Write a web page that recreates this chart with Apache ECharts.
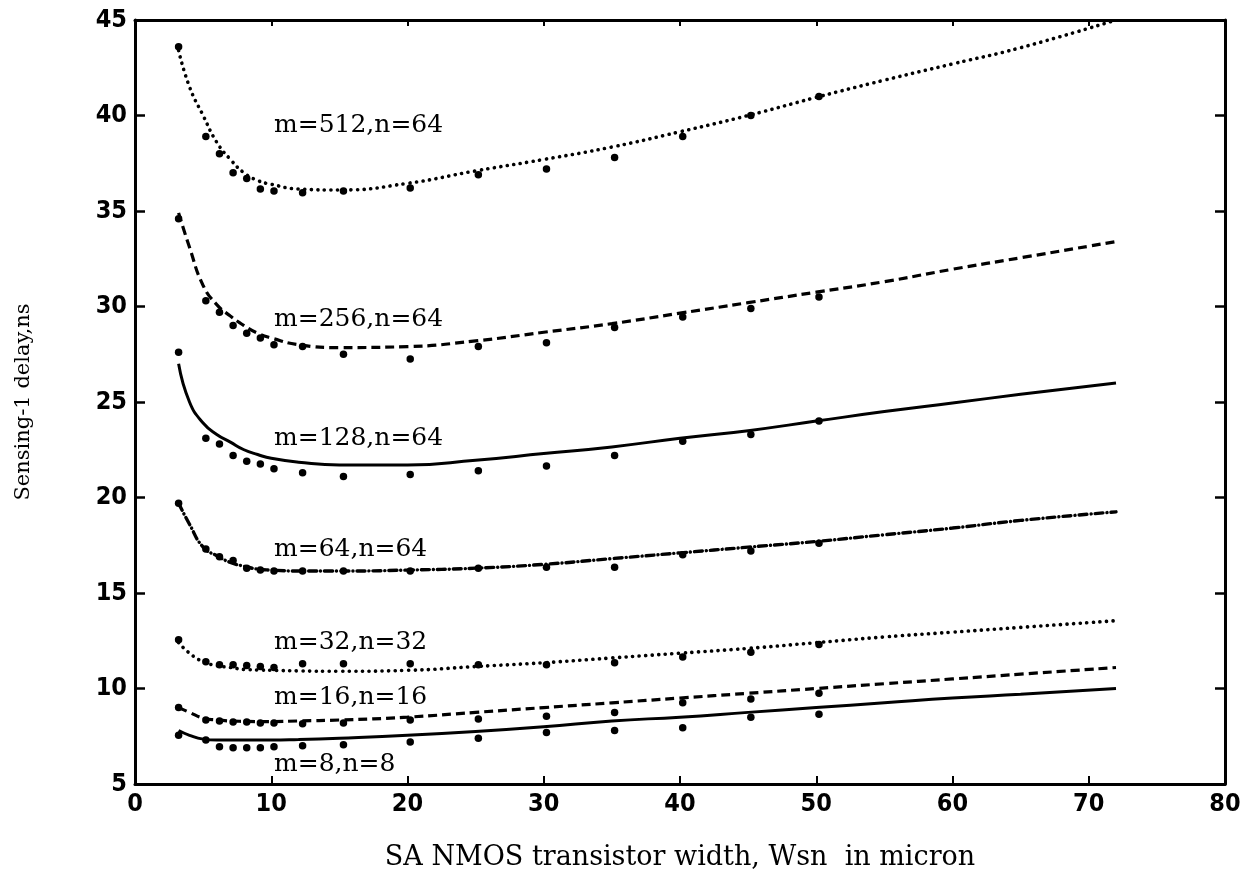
<!DOCTYPE html>
<html>
<head>
<meta charset="utf-8">
<script src="https://cdn.jsdelivr.net/npm/echarts@6/dist/echarts.min.js"></script>
<style>
  html, body { margin: 0; padding: 0; background: #fff; }
  #chart { width: 1256px; height: 893px; }
</style>
</head>
<body>
<div id="chart"></div>
<script>
// Sensing-1 delay (ns) against SA NMOS transistor width Wsn (micron)

// Widths where simulated delays were taken (dots)
const wsnPoints = [3.2, 5.2, 6.2, 7.2, 8.2, 9.2, 10.2, 12.3, 15.3, 20.2, 25.2, 30.2, 35.2, 40.2, 45.2, 50.2];

// Simulated delays (dots)
const dots512 = [43.6, 38.9, 38.0, 37.0, 36.7, 36.15, 36.05, 35.95, 36.05, 36.2, 36.9, 37.2, 37.8, 38.9, 40.0, 41.0];
const dots256 = [34.6, 30.3, 29.7, 29.0, 28.6, 28.35, 28.0, 27.9, 27.5, 27.25, 27.9, 28.1, 28.9, 29.45, 29.9, 30.5];
const dots128 = [27.6, 23.1, 22.8, 22.2, 21.9, 21.75, 21.5, 21.3, 21.1, 21.2, 21.4, 21.65, 22.2, 22.95, 23.3, 24.0];
const dots64  = [19.7, 17.3, 16.9, 16.7, 16.3, 16.2, 16.15, 16.15, 16.15, 16.15, 16.3, 16.35, 16.35, 17.0, 17.2, 17.6];
const dots32  = [12.55, 11.4, 11.25, 11.25, 11.2, 11.15, 11.1, 11.3, 11.3, 11.3, 11.25, 11.25, 11.35, 11.65, 11.9, 12.3];
const dots16  = [9.0, 8.35, 8.3, 8.25, 8.25, 8.2, 8.2, 8.15, 8.2, 8.35, 8.4, 8.55, 8.75, 9.25, 9.45, 9.75];
const dots8   = [7.55, 7.3, 6.95, 6.9, 6.9, 6.9, 6.95, 7.0, 7.05, 7.2, 7.4, 7.7, 7.8, 7.95, 8.5, 8.65];

// Widths for the model curves
const wsnCurve = [3.2, 4, 5, 6, 7, 8, 9, 10, 12, 15, 20, 25, 30, 35, 40, 45, 50, 55, 60, 65, 72];

// Model curves
const curve512 = [43.4, 41.5, 40.0, 38.6, 37.7, 37.0, 36.6, 36.4, 36.15, 36.1, 36.45, 37.1, 37.7, 38.35, 39.15, 40.0, 40.95, 41.85, 42.7, 43.55, 45.0];
const curve256 = [34.9, 33.1, 31.1, 30.1, 29.5, 29.0, 28.6, 28.35, 28.0, 27.85, 27.9, 28.2, 28.65, 29.1, 29.65, 30.2, 30.75, 31.3, 31.95, 32.55, 33.4];
const curve128 = [27.0, 25.0, 23.9, 23.3, 22.9, 22.5, 22.25, 22.05, 21.85, 21.7, 21.7, 21.95, 22.3, 22.65, 23.1, 23.5, 24.0, 24.5, 24.95, 25.4, 26.0];
const curve64  = [19.7, 18.6, 17.4, 16.95, 16.6, 16.4, 16.25, 16.2, 16.15, 16.15, 16.2, 16.3, 16.5, 16.8, 17.1, 17.4, 17.7, 18.05, 18.4, 18.8, 19.25];
const curve32  = [12.4, 11.85, 11.4, 11.2, 11.1, 11.0, 10.97, 10.95, 10.92, 10.9, 10.95, 11.15, 11.35, 11.6, 11.85, 12.1, 12.4, 12.7, 12.95, 13.2, 13.55];
const curve16  = [9.0, 8.75, 8.45, 8.35, 8.3, 8.28, 8.27, 8.27, 8.3, 8.35, 8.5, 8.75, 9.0, 9.25, 9.5, 9.75, 10.0, 10.25, 10.5, 10.75, 11.1];
const curve8   = [7.8, 7.55, 7.35, 7.3, 7.3, 7.3, 7.3, 7.3, 7.33, 7.4, 7.55, 7.75, 8.0, 8.3, 8.5, 8.75, 9.0, 9.25, 9.5, 9.7, 10.0];

// Curve names
const curveNames = ['m=512,n=64', 'm=256,n=64', 'm=128,n=64', 'm=64,n=64', 'm=32,n=32', 'm=16,n=16', 'm=8,n=8'];

// Axis ticks
const xTicks = [0, 10, 20, 30, 40, 50, 60, 70, 80];
const yTicks = [5, 10, 15, 20, 25, 30, 35, 40, 45];

const INK = '#000';
const serif = '"DejaVu Serif", "Liberation Serif", serif';
const tickFont = '"Liberation Sans Narrow", "DejaVu Sans Condensed", "Liberation Sans", Arial, sans-serif';

const dashStyles = {
  dotted:  { type: [0.1, 6.5], cap: 'round', width: 3.6 },
  dashed:  { type: [9, 5], cap: 'butt', width: 3.2 },
  solid:   { type: 'solid', width: 3 },
  dashdot: { type: [8, 4, 0.1, 4], cap: 'round', width: 3.4 }
};

const groups = [
  { dots: dots512, curve: curve512, style: 'dotted' },
  { dots: dots256, curve: curve256, style: 'dashed' },
  { dots: dots128, curve: curve128, style: 'solid' },
  { dots: dots64,  curve: curve64,  style: 'dashdot' },
  { dots: dots32,  curve: curve32,  style: 'dotted' },
  { dots: dots16,  curve: curve16,  style: 'dashed' },
  { dots: dots8,   curve: curve8,   style: 'solid' }
];

// Where each curve's name sits (data coordinates of its left/middle)
const nameAnchors = [[10.2, 39.5], [10.2, 29.3], [10.2, 23.1], [10.2, 17.3], [10.2, 12.4], [10.2, 9.55], [10.2, 6.0]];

const series = [];
groups.forEach((g, i) => {
  series.push({
    name: curveNames[i] + ' model',
    type: 'line',
    data: wsnCurve.map((x, k) => [x, g.curve[k]]),
    smooth: 0.5,
    showSymbol: false,
    clip: true,
    lineStyle: Object.assign({ color: INK, opacity: 1 }, dashStyles[g.style]),
    z: 2,
    silent: true
  });
  series.push({
    name: curveNames[i],
    type: 'scatter',
    data: wsnPoints.map((x, k) => [x, g.dots[k]]),
    symbol: 'circle',
    symbolSize: 7.5,
    itemStyle: { color: INK, opacity: 1 },
    z: 3,
    silent: true
  });
});

series.push({
  name: 'names',
  type: 'scatter',
  data: nameAnchors.map((p, i) => ({ value: p, name: curveNames[i] })),
  symbolSize: 0,
  silent: true,
  itemStyle: { opacity: 1 },
  label: {
    show: true,
    position: 'right',
    distance: 0,
    formatter: p => p.name,
    fontFamily: serif,
    fontSize: 25,
    color: INK,
    opacity: 1
  }
});

const axisLineStyle = { color: INK, width: 3 };

const chart = echarts.init(document.getElementById('chart'), null, { renderer: 'canvas' });
chart.setOption({
  backgroundColor: '#fff',
  animation: false,
  grid: { left: 135, right: 31, top: 20, bottom: 109, containLabel: false },
  xAxis: [
    {
      type: 'value', position: 'bottom',
      min: xTicks[0], max: xTicks[xTicks.length - 1], interval: 10,
      splitLine: { show: false },
      axisLine: { show: true, onZero: false, lineStyle: axisLineStyle },
      axisTick: { show: true, inside: true, length: 8, lineStyle: { color: INK, width: 2 } },
      axisLabel: { color: INK, fontFamily: tickFont, fontWeight: 'bold', fontSize: 25, margin: 8 },
      name: 'SA NMOS transistor width, Wsn  in micron',
      nameLocation: 'middle',
      nameGap: 60,
      nameTextStyle: { color: INK, fontFamily: serif, fontSize: 27 }
    },
    {
      type: 'value', position: 'top',
      min: xTicks[0], max: xTicks[xTicks.length - 1], interval: 10,
      splitLine: { show: false },
      axisLine: { show: true, onZero: false, lineStyle: axisLineStyle },
      axisTick: { show: true, inside: true, length: 6, lineStyle: { color: INK, width: 2 } },
      axisLabel: { show: false }
    }
  ],
  yAxis: [
    {
      type: 'value', position: 'left',
      min: yTicks[0], max: yTicks[yTicks.length - 1], interval: 5,
      splitLine: { show: false },
      axisLine: { show: true, onZero: false, lineStyle: axisLineStyle },
      axisTick: { show: true, inside: true, length: 10, lineStyle: { color: INK, width: 2.5 } },
      axisLabel: { color: INK, fontFamily: tickFont, fontWeight: 'bold', fontSize: 25, margin: 8 },
      name: 'Sensing-1 delay,ns',
      nameLocation: 'middle',
      nameRotate: 90,
      nameGap: 101,
      nameTextStyle: { color: INK, fontFamily: serif, fontSize: 21 }
    },
    {
      type: 'value', position: 'right',
      min: yTicks[0], max: yTicks[yTicks.length - 1], interval: 5,
      splitLine: { show: false },
      axisLine: { show: true, onZero: false, lineStyle: axisLineStyle },
      axisTick: { show: true, inside: true, length: 10, lineStyle: { color: INK, width: 2.5 } },
      axisLabel: { show: false }
    }
  ],
  series: series
});
</script>
</body>
</html>
